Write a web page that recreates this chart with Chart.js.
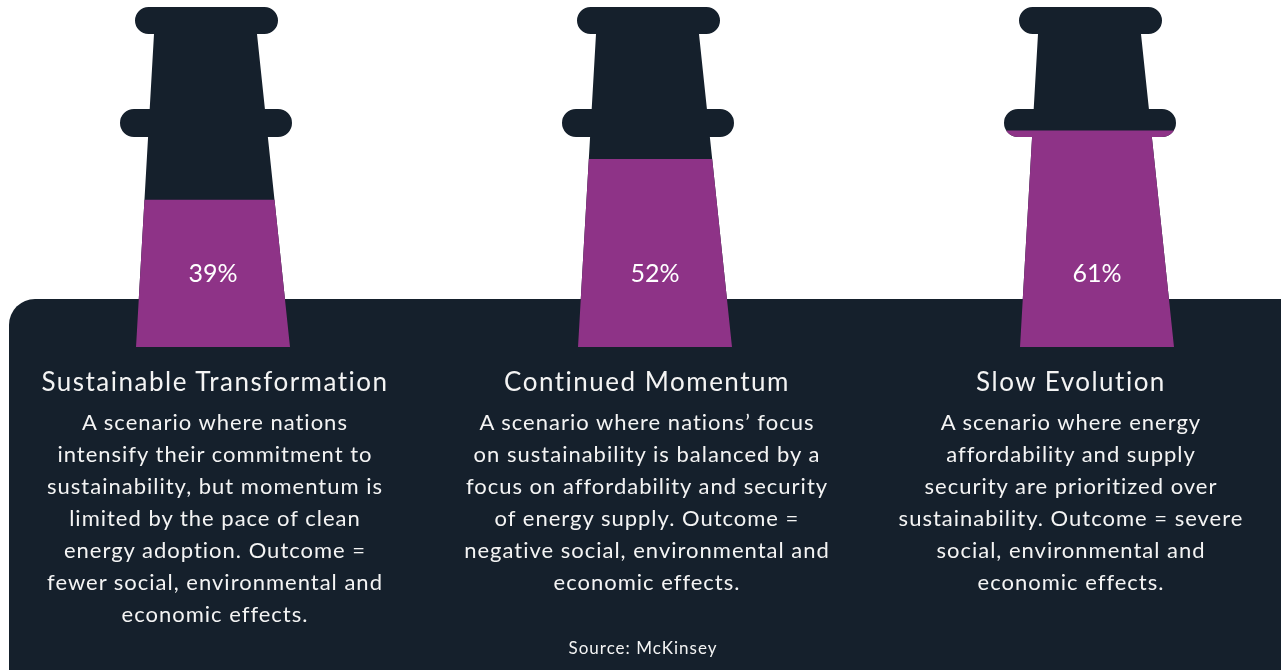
<!DOCTYPE html>
<html>
<head>
<meta charset="utf-8">
<script src="https://cdn.jsdelivr.net/npm/chart.js"></script>
<style>
body { margin:0; background:#ffffff; font-family:Lato, "Open Sans", sans-serif; }
#wrap { position:relative; width:1281px; height:670px; overflow:hidden; }
#wrap canvas { position:absolute; left:0; top:0; }
.title { position:absolute; width:520px; text-align:center; color:#f4f4f4; font-size:26px; line-height:32px; top:365px; letter-spacing:1.5px; }
.desc { position:absolute; width:520px; text-align:center; color:#f4f4f4; font-size:22px; line-height:32px; top:406px; letter-spacing:1px; }
#source { position:absolute; left:443px; width:400px; top:637px; text-align:center; color:#f4f4f4; font-size:17px; line-height:22px; letter-spacing:1px; }
</style>
</head>
<body>
<div id="wrap">
  <canvas id="myChart" width="1281" height="670"></canvas>
  <div id="texts"></div>
  <div id="source">Source: McKinsey</div>
</div>
<script>
// data
var scenarios = ['Sustainable Transformation', 'Continued Momentum', 'Slow Evolution'];
var shares = [39, 52, 61];
var descriptions = [
    ['A scenario where nations', 'intensify their commitment to', 'sustainability, but momentum is', 'limited by the pace of clean', 'energy adoption. Outcome =', 'fewer social, environmental and', 'economic effects.'],
    ['A scenario where nations\u2019 focus', 'on sustainability is balanced by a', 'focus on affordability and security', 'of energy supply. Outcome =', 'negative social, environmental and', 'economic effects.'],
    ['A scenario where energy', 'affordability and supply', 'security are prioritized over', 'sustainability. Outcome = severe', 'social, environmental and', 'economic effects.']
];
var textCenters = [215, 647, 1071];

var Y_MIN = -7.6;
var Y_MAX = 100;
var NAVY = '#15202c';
var PURPLE = '#8e3387';

// text blocks under each chimney
var html = '';
for (var i in scenarios) {
    var left = textCenters[i] - 260;
    html += '<div class="title" style="left:' + left + 'px">' + scenarios[i] + '</div>';
    html += '<div class="desc" style="left:' + left + 'px">' + descriptions[i].join('<br>') + '</div>';
}
document.getElementById('texts').innerHTML = html;

// chimney outline, pixels relative to bottom centre of the stack
function shaftPath(ctx, cx, top, bottom) {
    ctx.moveTo(cx - 59, top + 27);
    ctx.lineTo(cx + 44, top + 27);
    ctx.lineTo(cx + 77, bottom);
    ctx.lineTo(cx - 77, bottom);
    ctx.closePath();
    ctx.roundRect(cx - 78, top, 143, 27, 13.5);
    ctx.roundRect(cx - 93, top + 102, 172, 28, 14);
}

var chimneyPlugin = {
    id: 'chimneys',
    beforeDraw: function(chart) {
        var ctx = chart.ctx;
        ctx.save();
        ctx.fillStyle = '#ffffff';
        ctx.fillRect(0, 0, chart.width, chart.height);
        ctx.fillStyle = NAVY;
        ctx.beginPath();
        ctx.roundRect(9, 299, chart.width + 20, chart.height, 26);
        ctx.fill();
        ctx.restore();
    },
    beforeDatasetsDraw: function(chart) {
        var ctx = chart.ctx;
        var x = chart.scales.x;
        var area = chart.chartArea;
        ctx.save();
        ctx.fillStyle = NAVY;
        ctx.beginPath();
        for (var i = 0; i < shares.length; i++) {
            shaftPath(ctx, x.getPixelForValue(i), area.top - 1, area.bottom);
        }
        ctx.fill('nonzero');
        ctx.clip('nonzero');
    },
    afterDatasetsDraw: function(chart) {
        var ctx = chart.ctx;
        var x = chart.scales.x;
        var area = chart.chartArea;
        ctx.restore();
        ctx.save();
        ctx.fillStyle = '#ffffff';
        ctx.font = '25px Lato, "Open Sans", sans-serif';
        ctx.textAlign = 'center';
        ctx.textBaseline = 'middle';
        for (var i = 0; i < shares.length; i++) {
            ctx.fillText(shares[i] + '%', x.getPixelForValue(i), area.bottom - 73);
        }
        ctx.restore();
    }
};

var ctx = document.getElementById('myChart');
var chimneyChart = new Chart(ctx, {
    type: 'bar',
    data: {
        labels: scenarios,
        datasets: [{
            data: shares,
            base: Y_MIN,
            backgroundColor: PURPLE,
            borderWidth: 0,
            barThickness: 220,
            clip: false
        }]
    },
    options: {
        responsive: false,
        animation: false,
        layout: { padding: { left: 213, right: 184, top: 8, bottom: 323 } },
        plugins: { legend: { display: false }, tooltip: { enabled: false } },
        scales: {
            x: { display: false, offset: false },
            y: { display: false, min: Y_MIN, max: Y_MAX }
        }
    },
    plugins: [chimneyPlugin]
});
</script>
</body>
</html>
